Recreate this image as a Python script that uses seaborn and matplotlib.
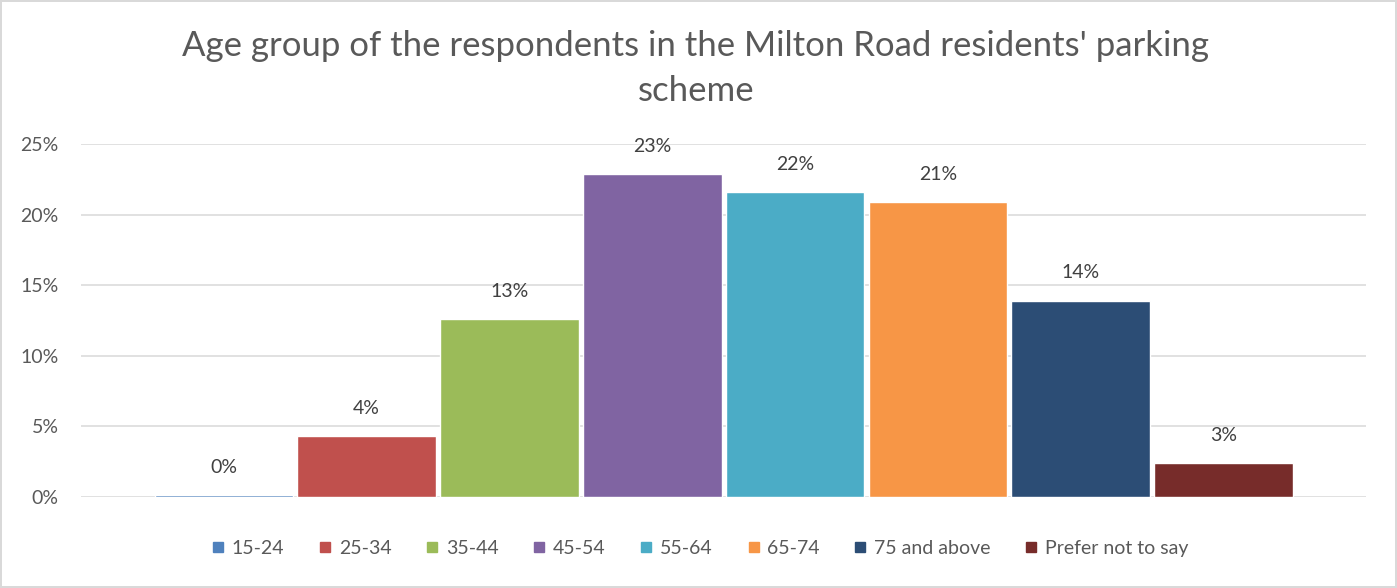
import pandas as pd
import numpy as np
import matplotlib.pyplot as plt
import seaborn as sns

# data
age_groups = ["15-24", "25-34", "35-44", "45-54", "55-64", "65-74", "75 and above", "Prefer not to say"]
share = [0.001, 0.043, 0.126, 0.2285, 0.216, 0.209, 0.139, 0.024]
labels = ["0%", "4%", "13%", "23%", "22%", "21%", "14%", "3%"]
colors = ["#4F81BD", "#C0504D", "#9BBB59", "#8064A2", "#4BACC6", "#F79646", "#2C4D75", "#772C2A"]
yticks = [0, 0.05, 0.10, 0.15, 0.20, 0.25]
ytick_labels = ["0%", "5%", "10%", "15%", "20%", "25%"]

df = pd.DataFrame({"age": age_groups, "share": share})

sns.set_style("white")
plt.rcParams['font.family'] = ['Lato', 'DejaVu Sans']

fig = plt.figure(figsize=(13.97, 5.88), dpi=100)
fig.patch.set_edgecolor("#D9D9D9")
fig.patch.set_linewidth(1.5)
ax = fig.add_axes([0.058, 0.155, 0.920, 0.600])

sns.barplot(data=df, x="age", y="share", hue="age", palette=colors,
            order=age_groups, hue_order=age_groups, width=0.97, saturation=1,
            dodge=False, legend=False, ax=ax)

for i, (v, t) in enumerate(zip(share, labels)):
    ax.annotate(t, (i, v), xytext=(0, 20), textcoords="offset points",
                ha="center", va="center", fontsize=14, color="#404040")

ax.set_xlim(-1, 8)
ax.set_ylim(0, 0.25)
ax.set_yticks(yticks)
ax.set_yticklabels(ytick_labels)
ax.set_xticks([])
ax.set_xlabel("")
ax.set_ylabel("")
ax.tick_params(axis="y", length=0, pad=16, labelsize=14, labelcolor="#595959")
ax.yaxis.grid(True, color="#D9D9D9", linewidth=1.1)
ax.set_axisbelow(True)
sns.despine(ax=ax, left=True, bottom=True)

fig.text(0.498, 0.922, "Age group of the respondents in the Milton Road residents' parking",
         ha="center", va="center", fontsize=25, color="#595959")
fig.text(0.498, 0.845, "scheme", ha="center", va="center", fontsize=25, color="#595959")

handles = [plt.Line2D([], [], marker="s", linestyle="", markersize=7,
                      markerfacecolor=c, markeredgecolor=c) for c in colors]
fig.legend(handles, age_groups, loc="center", bbox_to_anchor=(0.5, 0.068), ncol=8,
           frameon=False, fontsize=14, labelcolor="#595959", handletextpad=0.2,
           columnspacing=1.6, handlelength=1.0)

fig.savefig("out.png", dpi=100)
